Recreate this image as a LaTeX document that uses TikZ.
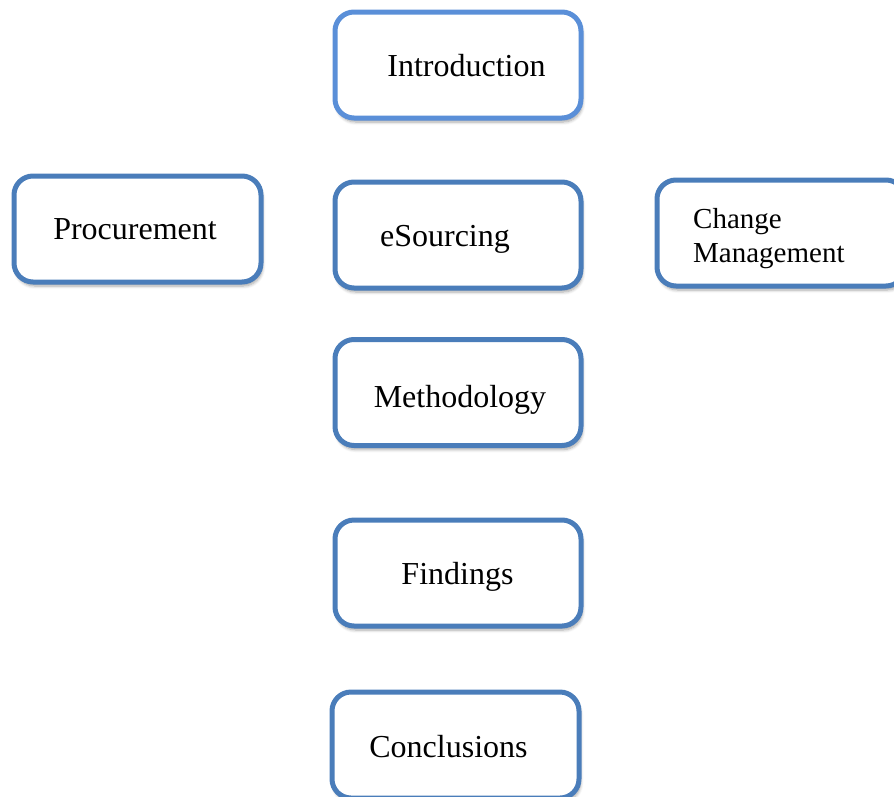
\documentclass[tikz,border=0pt]{standalone}
\usepackage{fontspec}
\setmainfont{Liberation Serif}
\usetikzlibrary{shadows.blur}
\definecolor{introblue}{HTML}{5A8FD8}
\definecolor{boxblue}{HTML}{4A7DBA}
\tikzset{
  topic/.style={draw=boxblue, line width=5pt, rounded corners=19pt, fill=white,
    minimum width=246pt, minimum height=106pt, inner sep=0pt,
    blur shadow={shadow xshift=1.5pt, shadow yshift=-4pt, shadow blur steps=6,
      shadow blur radius=3pt, shadow opacity=35}},
  lbl/.style={anchor=base, inner sep=0pt, font=\fontsize{32}{35}\selectfont},
  smalllbl/.style={lbl, anchor=base west, font=\fontsize{29}{32}\selectfont},
}
\begin{document}
\begin{tikzpicture}[x=1pt, y=-1pt]
  \useasboundingbox (0,0) rectangle (894,796);
  \clip (0,0) rectangle (894,796);

  % outline boxes
  \node[topic, draw=introblue] (intro) at (458,65) {};
  \node[topic, minimum width=247pt] (proc) at (137.5,229) {};
  \node[topic] (esrc) at (458,235) {};
  \node[topic, minimum width=248pt] (chg) at (781,233) {};
  \node[topic] (meth) at (458,392.5) {};
  \node[topic] (find) at (458,573) {};
  \node[topic, minimum width=247pt] (concl) at (455.5,745) {};

  % box titles
  \node[lbl] (introT) at (466.5,76) {Introduction};
  \node[lbl] (procT) at (135,239) {Procurement};
  \node[lbl] (esrcT) at (445,246) {eSourcing};
  \node[smalllbl] (chgT1) at (693,228) {Change};
  \node[smalllbl] (chgT2) at (693,262) {Management};
  \node[lbl] (methT) at (460,407) {Methodology};
  \node[lbl] (findT) at (457.5,584) {Findings};
  \node[lbl] (conclT) at (448.5,757) {Conclusions};
\end{tikzpicture}
\end{document}
